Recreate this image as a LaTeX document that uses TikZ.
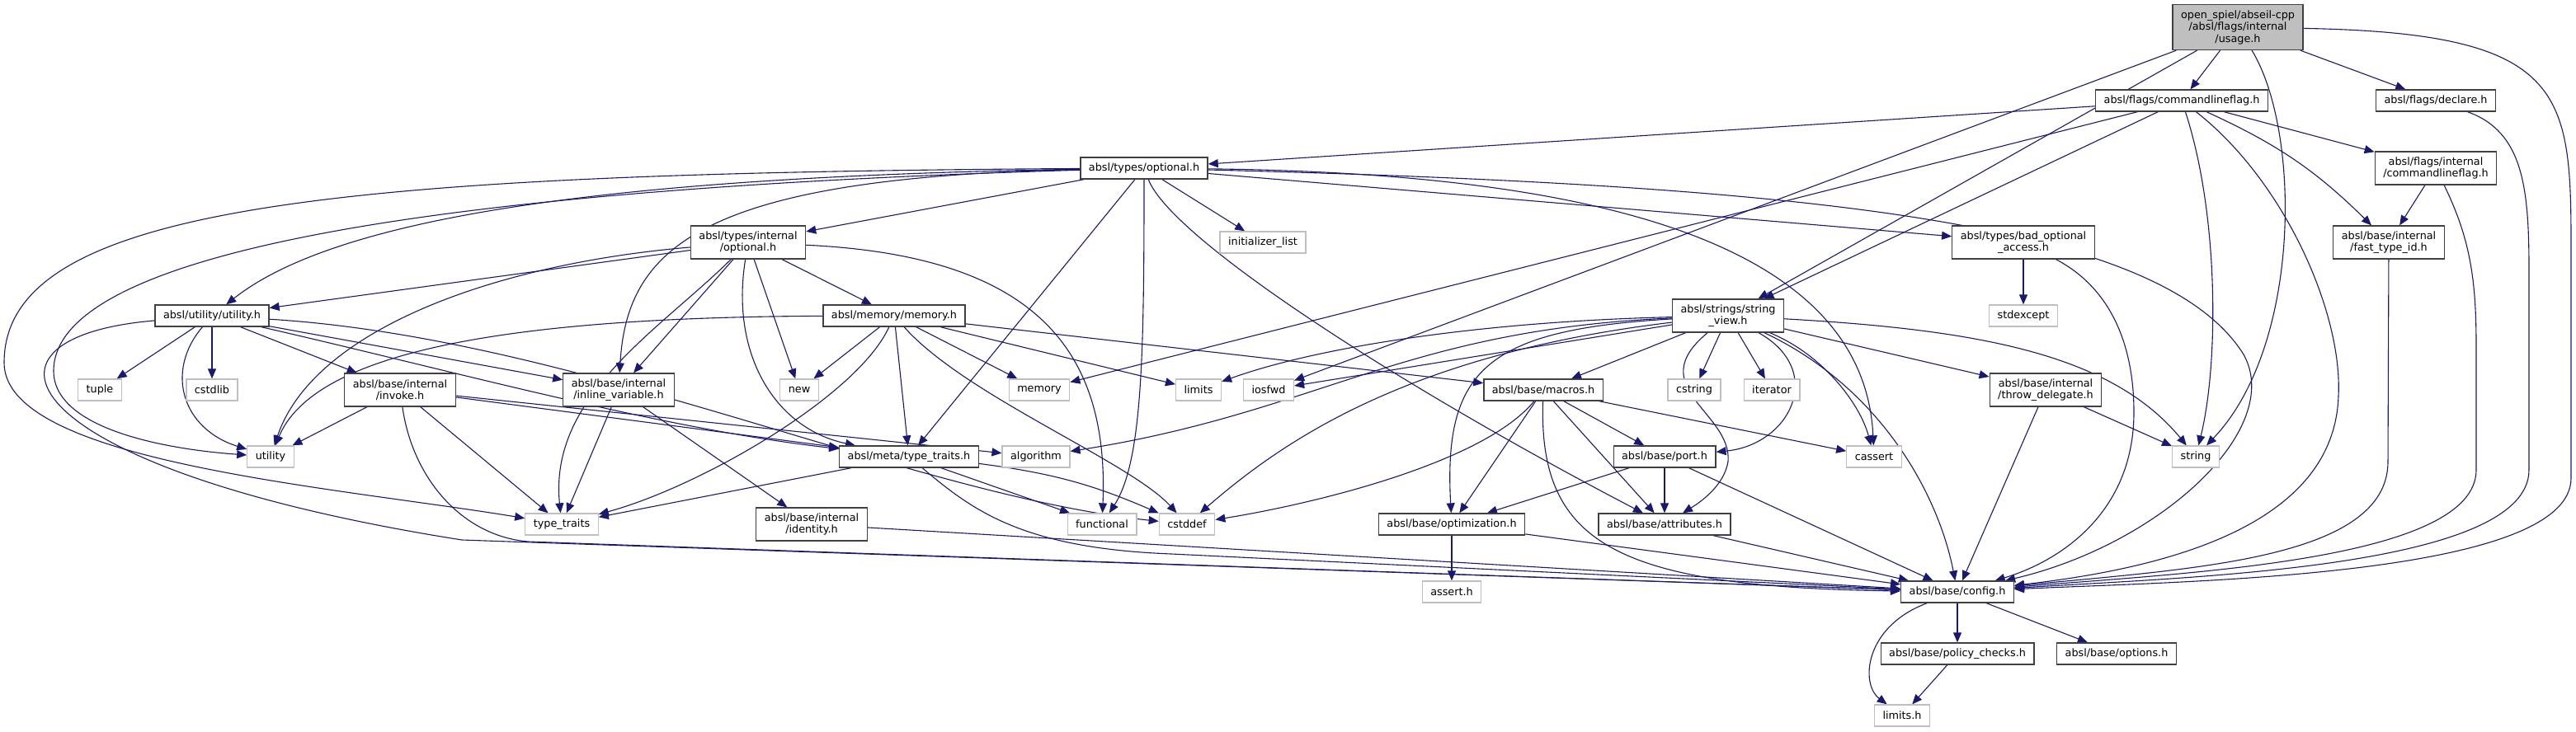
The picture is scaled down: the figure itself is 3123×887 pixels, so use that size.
\documentclass[tikz,border=0pt]{standalone}
\usepackage{fontspec}
\setmainfont{DejaVu Sans}
\usetikzlibrary{arrows.meta,backgrounds}
\definecolor{edgeblue}{HTML}{191970}
\definecolor{boxline}{HTML}{404040}
\definecolor{sysgray}{HTML}{BFBFBF}
\tikzset{
  hdr/.style={draw=boxline, fill=white, line width=1.3pt, inner xsep=10pt, inner ysep=2pt,
    minimum height=26pt, align=center, font=\fontsize{12.8}{14.5}\selectfont},
  sys/.style={hdr, draw=sysgray},
  tall/.style={minimum height=40pt},
  dep/.style={draw=edgeblue, line width=1.1pt, -{Triangle[length=12pt,width=10pt]}}
}
\begin{document}
\begin{tikzpicture}[x=1pt,y=-1pt]
  \useasboundingbox (0,0) rectangle (3123,887);
  % headers, row by row
  \node[hdr, fill=sysgray, minimum height=55pt] (usage) at (2713,33) {open\_spiel/abseil-cpp\\/absl/flags/internal\\/usage.h};
  \node[hdr] (cmdflag) at (2645,122) {absl/flags/commandlineflag.h};
  \node[hdr] (declare) at (2953,122) {absl/flags/declare.h};
  \node[hdr] (optional) at (1387,204) {absl/types/optional.h};
  \node[hdr, tall] (icmdflag) at (2953,204) {absl/flags/internal\\/commandlineflag.h};
  \node[hdr, tall] (ioptional) at (907,294) {absl/types/internal\\/optional.h};
  \node[sys] (initlist) at (1531,294) {initializer\_list};
  \node[hdr, tall] (badopt) at (2453,294) {absl/types/bad\_optional\\\_access.h};
  \node[hdr, tall] (fasttype) at (2896,294) {absl/base/internal\\/fast\_type\_id.h};
  \node[hdr] (utilityh) at (257,383) {absl/utility/utility.h};
  \node[hdr] (memoryh) at (1084,383) {absl/memory/memory.h};
  \node[hdr, tall] (strview) at (2095,383) {absl/strings/string\\\_view.h};
  \node[sys] (stdexcept) at (2453,383) {stdexcept};
  \node[sys] (tuple) at (121,473) {tuple};
  \node[sys] (cstdlib) at (257,473) {cstdlib};
  \node[hdr, tall] (invoke) at (485,473) {absl/base/internal\\/invoke.h};
  \node[hdr, tall] (inlinevar) at (750,473) {absl/base/internal\\/inline\_variable.h};
  \node[sys] (new) at (969,473) {new};
  \node[sys] (memory) at (1260,473) {memory};
  \node[sys] (limits) at (1453,473) {limits};
  \node[sys] (iosfwd) at (1538,473) {iosfwd};
  \node[hdr] (macros) at (1871,473) {absl/base/macros.h};
  \node[sys] (cstring) at (2054,473) {cstring};
  \node[sys] (iterator) at (2148,473) {iterator};
  \node[hdr, tall] (throwdel) at (2480,473) {absl/base/internal\\/throw\_delegate.h};
  \node[sys] (utility) at (328,554) {utility};
  \node[hdr] (typetraitsh) at (1102,554) {absl/meta/type\_traits.h};
  \node[sys] (algorithm) at (1256,554) {algorithm};
  \node[hdr] (port) at (2018,554) {absl/base/port.h};
  \node[sys] (cassert) at (2272,554) {cassert};
  \node[sys] (string) at (2662,554) {string};
  \node[sys] (typetraits) at (681,636) {type\_traits};
  \node[hdr, tall] (identity) at (984,636) {absl/base/internal\\/identity.h};
  \node[sys] (functional) at (1336,636) {functional};
  \node[sys] (cstddef) at (1439,636) {cstddef};
  \node[hdr] (optimization) at (1760,636) {absl/base/optimization.h};
  \node[hdr] (attributes) at (2018,636) {absl/base/attributes.h};
  \node[sys] (asserth) at (1760,718) {assert.h};
  \node[hdr] (config) at (2373,718) {absl/base/config.h};
  \node[hdr] (policy) at (2373,793) {absl/base/policy\_checks.h};
  \node[hdr] (options) at (2566,793) {absl/base/options.h};
  \node[sys] (limitsh) at (2306,868) {limits.h};

  \begin{scope}[on background layer]
    % usage.h
    \draw[dep] (usage) -- (cmdflag);
    \draw[dep] (usage) -- (declare);
    \draw[dep] (usage) -- (strview);
    \draw[dep] (usage) -- (iosfwd);
    \draw[dep] (usage) .. controls (2790,160) and (2790,420) .. (string);
    \draw[dep] (usage) .. controls (3110,40) and (3117,110) .. (3117,300) -- (3117,580) .. controls (3117,700) and (2650,705) .. (config);
    % commandlineflag.h
    \draw[dep] (cmdflag) -- (optional);
    \draw[dep] (cmdflag) -- (memory);
    \draw[dep] (cmdflag) -- (strview);
    \draw[dep] (cmdflag) -- (icmdflag);
    \draw[dep] (cmdflag) to[bend left=10] (fasttype);
    \draw[dep] (cmdflag) .. controls (2690,260) and (2690,440) .. (string);
    \draw[dep] (cmdflag) .. controls (2770,220) and (2840,380) .. (2835,480) .. controls (2830,640) and (2620,690) .. (config);
    % declare.h and internal flags
    \draw[dep] (declare) .. controls (3060,160) and (3066,230) .. (3066,330) -- (3066,570) .. controls (3066,690) and (2650,700) .. (config);
    \draw[dep] (icmdflag) -- (fasttype);
    \draw[dep] (icmdflag) .. controls (2995,290) and (3002,340) .. (3002,420) -- (3002,570) .. controls (3002,680) and (2650,695) .. (config);
    \draw[dep] (fasttype) -- (2895,560) .. controls (2895,680) and (2650,690) .. (config);
    \draw[dep] (badopt) -- (stdexcept);
    \draw[dep] (badopt) .. controls (2560,350) and (2587,420) .. (2587,500) .. controls (2587,620) and (2500,680) .. (config);
    % optional.h
    \draw[dep] (optional) -- (ioptional);
    \draw[dep] (optional) -- (initlist);
    \draw[dep] (optional) -- (badopt);
    \draw[dep] (optional) -- (typetraitsh);
    \draw[dep] (optional) .. controls (1420,290) and (1700,470) .. (attributes);
    \draw[dep] (optional) .. controls (1387,430) and (1385,560) .. (functional);
    \draw[dep] (optional) .. controls (1950,210) and (2260,300) .. (cassert);
    \draw[dep] (optional) .. controls (2200,225) and (2620,270) .. (2720,430) .. controls (2770,520) and (2620,660) .. (config);
    \draw[dep] (optional) .. controls (850,215) and (760,300) .. (inlinevar);
    \draw[dep] (optional) .. controls (700,215) and (400,270) .. (utilityh);
    \draw[dep] (optional) .. controls (500,230) and (65,310) .. (65,450) .. controls (65,520) and (200,545) .. (utility);
    \draw[dep] (optional) .. controls (400,210) and (5,250) .. (5,440) .. controls (5,560) and (400,590) .. (typetraits);
    % types/internal/optional.h
    \draw[dep] (ioptional) -- (utilityh);
    \draw[dep] (ioptional) -- (inlinevar);
    \draw[dep] (ioptional) -- (new);
    \draw[dep] (ioptional) -- (memoryh);
    \draw[dep] (ioptional) .. controls (600,320) and (380,400) .. (utility);
    \draw[dep] (ioptional) .. controls (800,400) and (665,480) .. (typetraits);
    \draw[dep] (ioptional) .. controls (885,430) and (940,520) .. (typetraitsh);
    \draw[dep] (ioptional) .. controls (1250,310) and (1345,420) .. (functional);
    % utility.h
    \draw[dep] (utilityh) -- (tuple);
    \draw[dep] (utilityh) -- (cstdlib);
    \draw[dep] (utilityh) -- (invoke);
    \draw[dep] (utilityh) -- (inlinevar);
    \draw[dep] (utilityh) .. controls (200,450) and (220,520) .. (utility);
    \draw[dep] (utilityh) .. controls (550,450) and (800,520) .. (typetraitsh);
    \draw[dep] (utilityh) .. controls (700,410) and (1100,600) .. (cstddef);
    \draw[dep] (utilityh) .. controls (-60,410) and (20,570) .. (560,655) -- (config);
    % invoke.h, inline_variable.h
    \draw[dep] (invoke) -- (utility);
    \draw[dep] (invoke) -- (typetraits);
    \draw[dep] (invoke) -- (algorithm);
    \draw[dep] (invoke) -- (typetraitsh);
    \draw[dep] (invoke) .. controls (500,580) and (560,650) .. (640,657) -- (config);
    \draw[dep] (inlinevar) -- (typetraits);
    \draw[dep] (inlinevar) -- (identity);
    % memory.h
    \draw[dep] (memoryh) -- (new);
    \draw[dep] (memoryh) -- (typetraitsh);
    \draw[dep] (memoryh) -- (memory);
    \draw[dep] (memoryh) -- (limits);
    \draw[dep] (memoryh) -- (macros);
    \draw[dep] (memoryh) .. controls (1040,480) and (850,590) .. (typetraits);
    \draw[dep] (memoryh) .. controls (1170,480) and (1370,560) .. (cstddef);
    \draw[dep] (memoryh) .. controls (600,385) and (380,430) .. (utility);
    % meta/type_traits.h, identity.h
    \draw[dep] (typetraitsh) -- (typetraits);
    \draw[dep] (typetraitsh) -- (functional);
    \draw[dep] (typetraitsh) to[bend left=8] (cstddef);
    \draw[dep] (typetraitsh) .. controls (1180,620) and (1240,665) .. (1420,672) -- (config);
    \draw[dep] (identity) -- (config);
    % string_view.h
    \draw[dep] (strview) -- (macros);
    \draw[dep] (strview) -- (cstring);
    \draw[dep] (strview) -- (iterator);
    \draw[dep] (strview) -- (throwdel);
    \draw[dep] (strview) -- (iosfwd);
    \draw[dep] (strview) .. controls (1800,390) and (1600,420) .. (limits);
    \draw[dep] (strview) .. controls (1700,400) and (1600,500) .. (algorithm);
    \draw[dep] (strview) .. controls (1700,430) and (1550,540) .. (cstddef);
    \draw[dep] (strview) .. controls (1800,400) and (1750,450) .. (optimization);
    \draw[dep] (strview) .. controls (2215,450) and (2170,540) .. (port);
    \draw[dep] (strview) .. controls (1990,470) and (2100,500) .. (2095,560) .. controls (2090,590) and (2060,610) .. (attributes);
    \draw[dep] (strview) .. controls (2210,430) and (2255,490) .. (cassert);
    \draw[dep] (strview) .. controls (2280,470) and (2350,600) .. (config);
    \draw[dep] (strview) .. controls (2400,400) and (2560,430) .. (string);
    % macros.h, port.h
    \draw[dep] (macros) -- (optimization);
    \draw[dep] (macros) -- (attributes);
    \draw[dep] (macros) -- (port);
    \draw[dep] (macros) -- (cassert);
    \draw[dep] (macros) .. controls (1800,560) and (1600,610) .. (cstddef);
    \draw[dep] (macros) .. controls (1865,660) and (1960,712) .. (config);
    \draw[dep] (port) -- (optimization);
    \draw[dep] (port) -- (attributes);
    \draw[dep] (port) -- (config);
    \draw[dep] (optimization) -- (asserth);
    \draw[dep] (optimization) -- (config);
    \draw[dep] (attributes) -- (config);
    \draw[dep] (throwdel) -- (string);
    \draw[dep] (throwdel) -- (config);
    % config.h
    \draw[dep] (config) -- (policy);
    \draw[dep] (config) -- (options);
    \draw[dep] (config) .. controls (2260,760) and (2255,830) .. (limitsh);
    \draw[dep] (policy) -- (limitsh);
  \end{scope}
\end{tikzpicture}
\end{document}
